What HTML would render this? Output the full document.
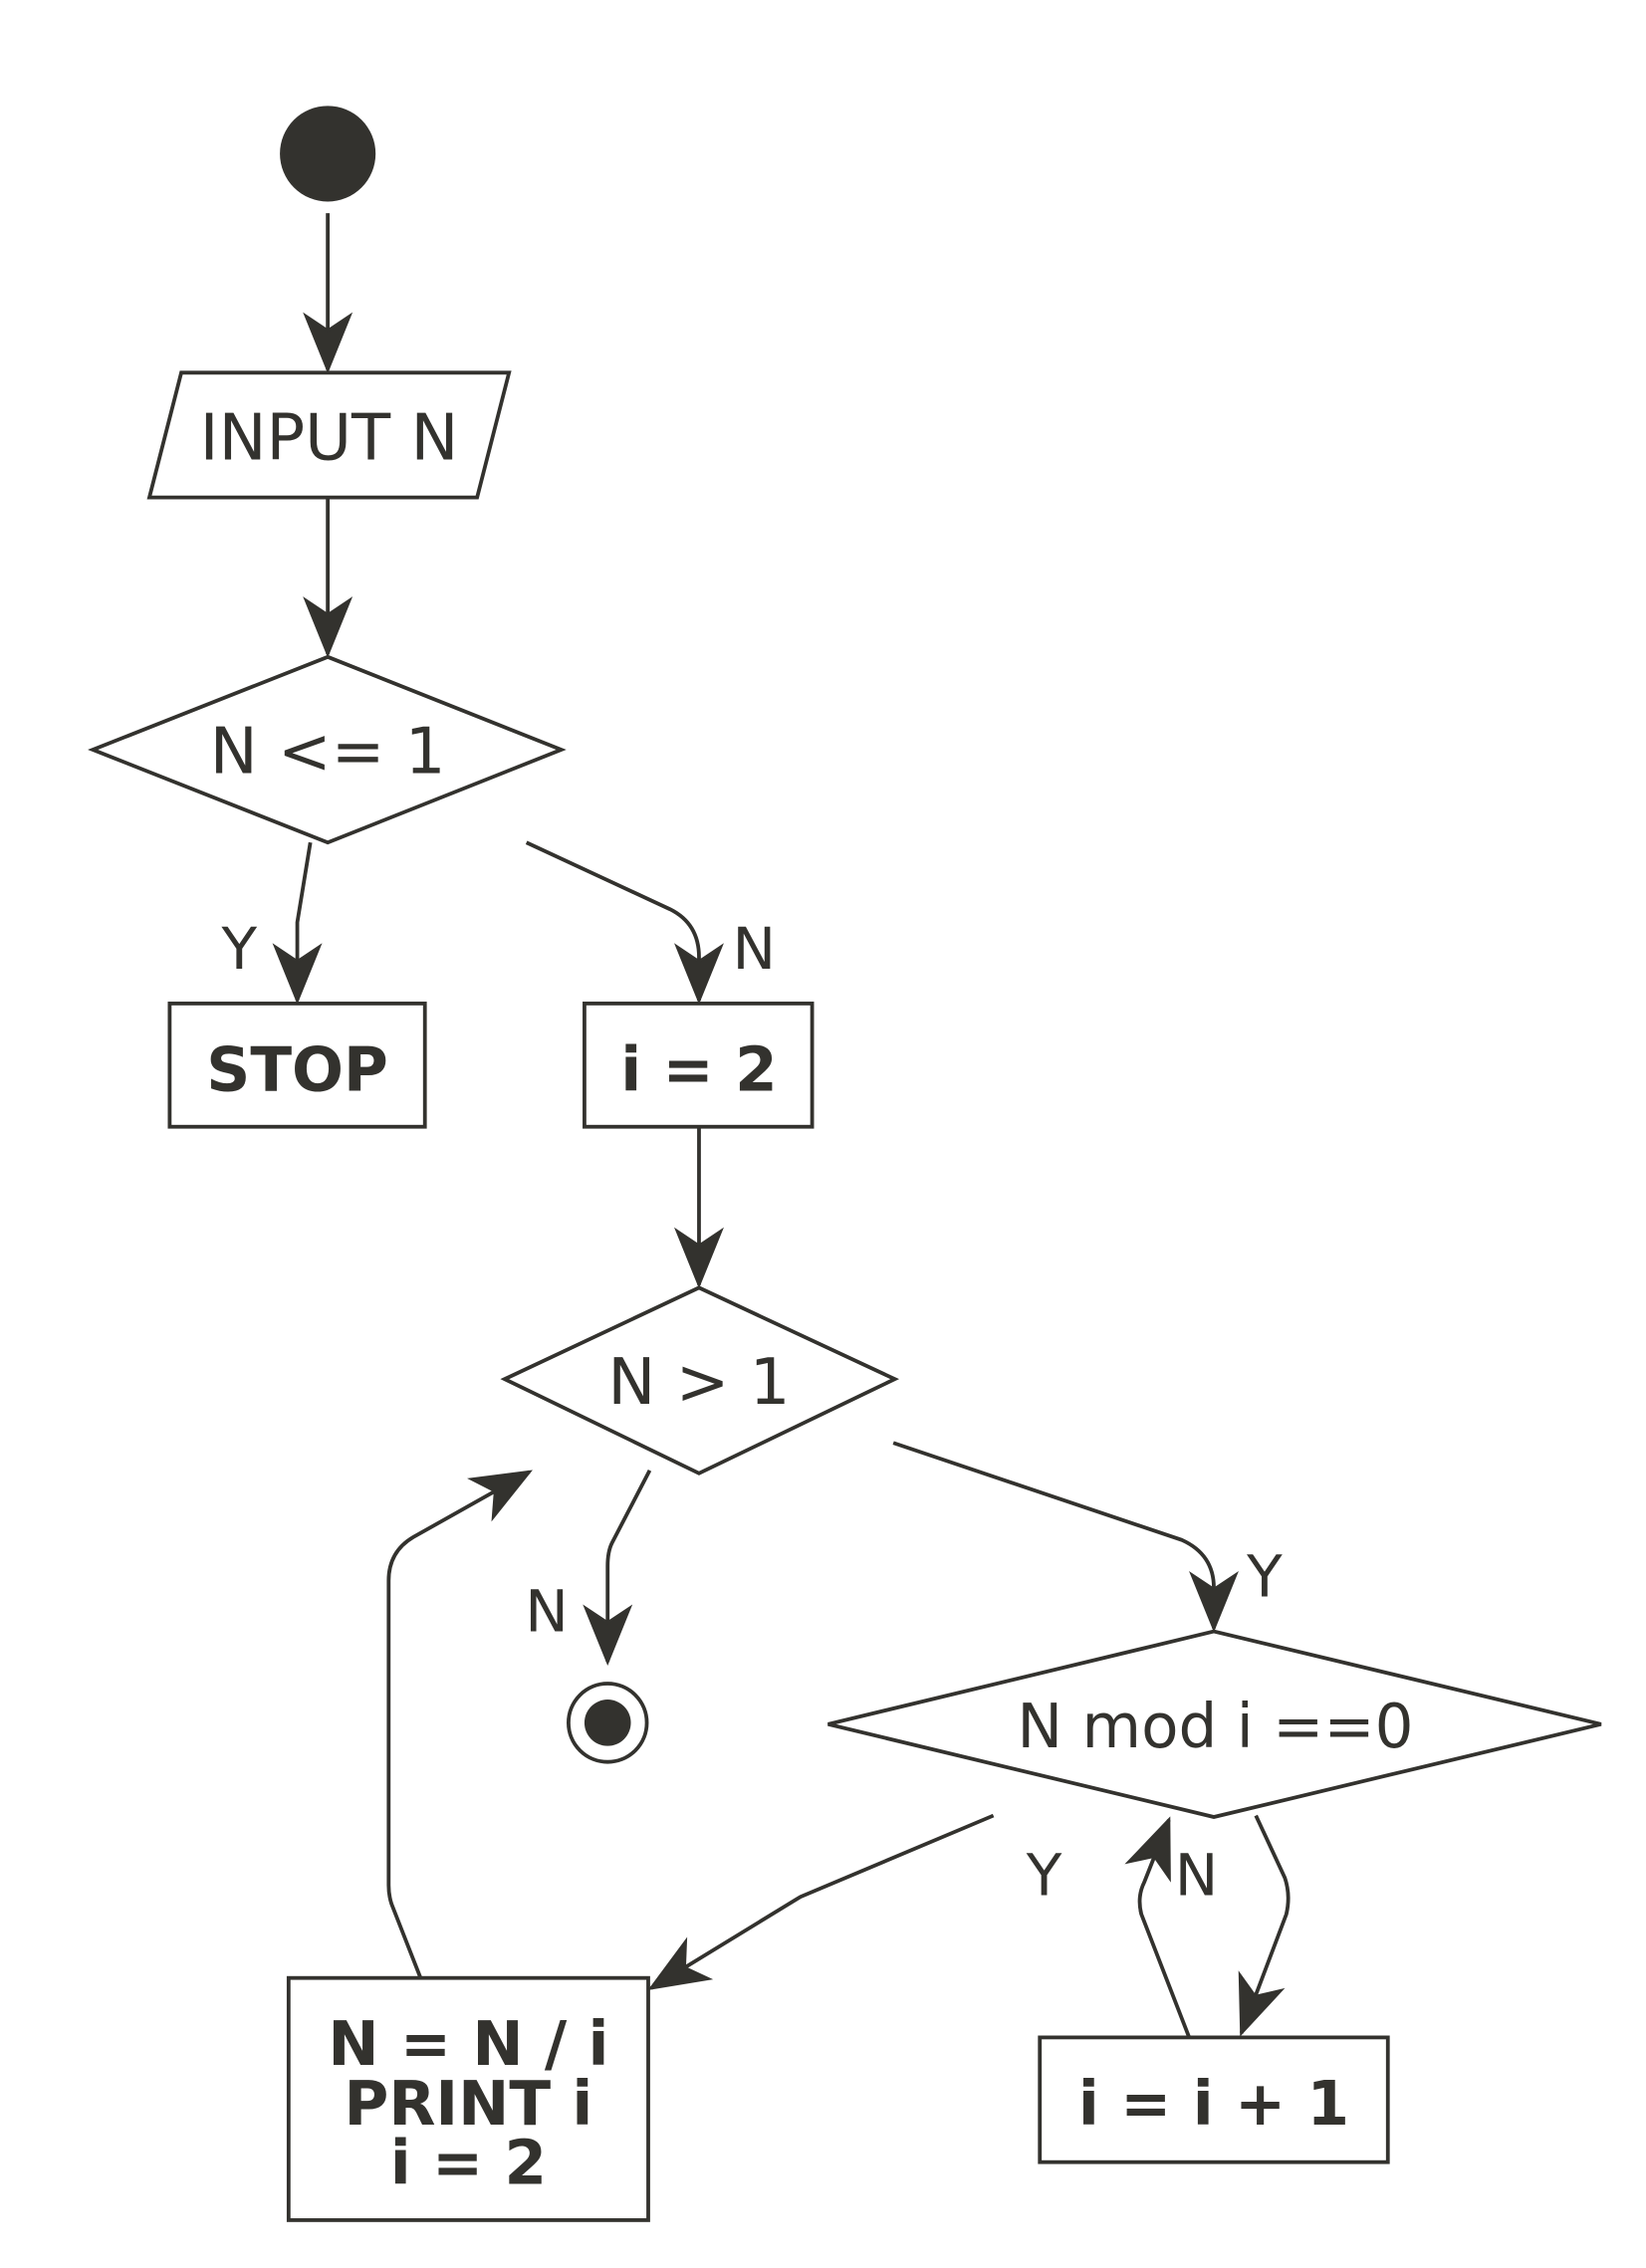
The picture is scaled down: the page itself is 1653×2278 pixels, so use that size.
<!DOCTYPE html>
<html><head><meta charset="utf-8"><style>
html,body{margin:0;padding:0;background:#fff}
svg{display:block}
text{font-family:"DejaVu Sans","Liberation Sans",sans-serif;fill:#33322e}
</style></head><body>
<svg width="1653" height="2278" viewBox="0 0 1135 1564" preserveAspectRatio="none" xmlns="http://www.w3.org/2000/svg">
<defs>
<marker id="a" markerUnits="userSpaceOnUse" markerWidth="80" markerHeight="80" viewBox="-40 -40 80 80" refX="0" refY="0" orient="auto" overflow="visible">
<path d="M0,0 L-37,-15 L-27,0 L-37,15 Z" fill="#33322e" stroke="#33322e" stroke-width="2" stroke-linejoin="miter"/>
</marker>
</defs>
<g fill="none" stroke="#33322e" stroke-width="2.6">
<circle cx="226" cy="106" r="33" fill="#33322e" stroke="none"/>
<path d="M226,147 L226,255" marker-end="url(#a)"/>
<polygon points="125,257 351,257 329,343 103,343"/>
<path d="M226,343 L226,451" marker-end="url(#a)"/>
<polygon points="226,453 387,517 226,581 64,517"/>
<path d="M214,581 L205,636 L205,690" marker-end="url(#a)"/>
<path d="M363,581 L462,627 Q482,637 482,660 L482,690" marker-end="url(#a)"/>
<rect x="117" y="692" width="176" height="85"/>
<rect x="403" y="692" width="157" height="85"/>
<path d="M482,777 L482,886" marker-end="url(#a)"/>
<polygon points="482,888 617,951 482,1016 348,951"/>
<path d="M448,1014 L422,1064 Q419,1070 419,1080 L419,1146" marker-end="url(#a)"/>
<circle cx="419" cy="1188" r="27"/>
<circle cx="419" cy="1188" r="16" fill="#33322e" stroke="none"/>
<path d="M616,995 L815,1062 Q837,1072 837,1095 L837,1123" marker-end="url(#a)"/>
<polygon points="837,1125 1104,1189 837,1253 571,1189"/>
<path d="M685,1252 L552,1308 L449,1371" marker-end="url(#a)"/>
<rect x="199" y="1364" width="248" height="167"/>
<path d="M290,1364 L270,1313 Q268,1307 268,1300 L268,1090 Q268,1070 285,1060 L365,1015" marker-end="url(#a)"/>
<path d="M866,1252 L886,1295 Q890,1307 887,1320 L856,1402" marker-end="url(#a)"/>
<rect x="717" y="1405" width="240" height="86"/>
<path d="M820,1405 L787,1320 Q784,1308 789,1298 L806,1255" marker-end="url(#a)"/>
</g>
<g font-size="44">
<text x="227" y="317" text-anchor="middle">INPUT N</text>
<text x="226" y="533" text-anchor="middle">N &lt;= 1</text>
<text x="482" y="968" text-anchor="middle">N &gt; 1</text>
<text x="838" y="1205" text-anchor="middle" font-size="42">N mod i ==0</text>
<text x="165" y="668" text-anchor="middle" font-size="40">Y</text>
<text x="520" y="668" text-anchor="middle" font-size="40">N</text>
<text x="377" y="1125" text-anchor="middle" font-size="40">N</text>
<text x="872" y="1101" text-anchor="middle" font-size="40">Y</text>
<text x="720" y="1307" text-anchor="middle" font-size="40">Y</text>
<text x="825" y="1307" text-anchor="middle" font-size="40">N</text>
</g>
<g font-size="42" font-weight="bold" text-anchor="middle">
<text x="205" y="752">STOP</text>
<text x="482" y="752">i = 2</text>
<text x="323" y="1424">N = N / i</text>
<text x="323" y="1465">PRINT i</text>
<text x="323" y="1506">i = 2</text>
<text x="837" y="1465">i = i + 1</text>
</g>
</svg>
</body></html>
